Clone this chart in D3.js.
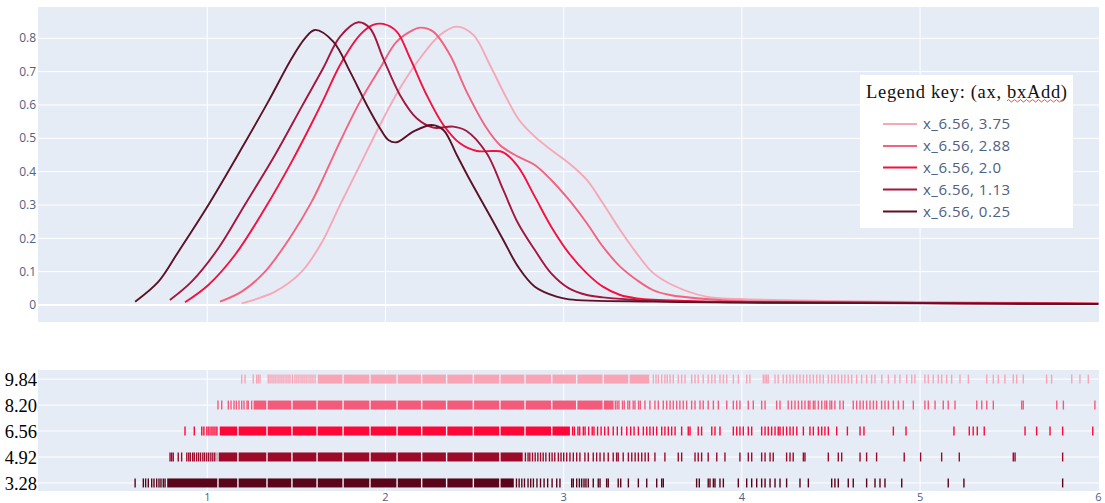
<!DOCTYPE html>
<html><head><meta charset="utf-8">
<script src="https://cdn.jsdelivr.net/npm/d3@7"></script>
<style>body{margin:0;background:#fff}svg{display:block}</style>
</head><body>
<svg id="c" width="1105" height="503"></svg>
<script>
// ---------- DATA ----------
const seriesLabels = ["x_6.56, 3.75", "x_6.56, 2.88", "x_6.56, 2.0", "x_6.56, 1.13", "x_6.56, 0.25"];
const seriesColors = ["#f7a8b7", "#f3627f", "#f2113f", "#a3163e", "#5b1126"];
const rugColors = ["#f9a4b5", "#f45b7b", "#ff0638", "#9c0a2a", "#5a0519"];
const rugLabels = ["9.84", "8.20", "6.56", "4.92", "3.28"];
const yTicks = [0, 0.1, 0.2, 0.3, 0.4, 0.5, 0.6, 0.7, 0.8];
const xTicks = [1, 2, 3, 4, 5, 6];
const legendTitle = "Legend key: (ax, bxAdd)";

const kde375x = [1.193, 1.38, 1.53, 1.645, 1.745, 1.857, 1.969, 2.081, 2.194, 2.306, 2.40, 2.493, 2.586, 2.68, 2.75, 2.838, 2.93, 3.03, 3.13, 3.22, 3.317, 3.41, 3.50, 3.61, 3.80, 3.99, 4.5, 5.0, 5.5, 6.0];
const kde375y = [0.005, 0.04, 0.10, 0.19, 0.30, 0.42, 0.54, 0.65, 0.74, 0.81, 0.835, 0.81, 0.72, 0.62, 0.555, 0.505, 0.465, 0.425, 0.375, 0.305, 0.225, 0.155, 0.097, 0.06, 0.025, 0.018, 0.012, 0.009, 0.007, 0.005];

const kde288x = [1.071, 1.193, 1.324, 1.474, 1.586, 1.65, 1.745, 1.857, 1.969, 2.063, 2.156, 2.194, 2.268, 2.362, 2.455, 2.568, 2.642, 2.744, 2.838, 2.93, 3.03, 3.13, 3.22, 3.317, 3.41, 3.50, 3.597, 3.8, 4.0, 4.5, 5.0, 5.5, 6.0];
const kde288y = [0.01, 0.04, 0.10, 0.21, 0.31, 0.38, 0.49, 0.61, 0.71, 0.79, 0.825, 0.832, 0.82, 0.75, 0.64, 0.53, 0.48, 0.445, 0.42, 0.375, 0.315, 0.245, 0.175, 0.115, 0.075, 0.045, 0.03, 0.018, 0.012, 0.009, 0.007, 0.006, 0.004];

const kde200x = [0.875, 1.006, 1.155, 1.324, 1.474, 1.586, 1.66, 1.745, 1.857, 1.93, 1.987, 2.063, 2.138, 2.231, 2.325, 2.418, 2.512, 2.605, 2.661, 2.744, 2.838, 2.93, 3.03, 3.13, 3.22, 3.317, 3.41, 3.7, 4.0, 4.5, 5.0, 5.5, 6.0];
const kde200y = [0.008, 0.06, 0.15, 0.29, 0.43, 0.545, 0.625, 0.72, 0.81, 0.84, 0.843, 0.82, 0.74, 0.63, 0.54, 0.485, 0.462, 0.462, 0.458, 0.415, 0.325, 0.235, 0.155, 0.095, 0.055, 0.03, 0.02, 0.012, 0.009, 0.008, 0.006, 0.005, 0.004];

const kde113x = [0.79, 0.912, 1.062, 1.21, 1.38, 1.53, 1.65, 1.745, 1.847, 1.913, 1.987, 2.081, 2.175, 2.268, 2.38, 2.455, 2.568, 2.661, 2.744, 2.838, 2.93, 3.03, 3.13, 3.22, 3.5, 4.0, 4.5, 5.0, 5.5, 6.0];
const kde113y = [0.015, 0.07, 0.17, 0.30, 0.45, 0.595, 0.71, 0.805, 0.848, 0.83, 0.74, 0.63, 0.56, 0.532, 0.535, 0.522, 0.455, 0.345, 0.245, 0.165, 0.095, 0.05, 0.03, 0.023, 0.013, 0.008, 0.007, 0.006, 0.004, 0.003];

const kde025x = [0.595, 0.726, 0.838, 1.006, 1.193, 1.342, 1.474, 1.548, 1.604, 1.707, 1.801, 1.895, 1.969, 2.016, 2.063, 2.156, 2.259, 2.325, 2.40, 2.474, 2.568, 2.661, 2.744, 2.838, 2.96, 3.03, 3.5, 4.0, 5.0, 6.0];
const kde025y = [0.010, 0.07, 0.16, 0.30, 0.47, 0.61, 0.74, 0.80, 0.825, 0.79, 0.70, 0.60, 0.53, 0.495, 0.488, 0.52, 0.54, 0.525, 0.45, 0.375, 0.285, 0.195, 0.115, 0.055, 0.025, 0.017, 0.010, 0.007, 0.005, 0.003];

// rug data: dense (solid) ranges and individual ticks
const rug984Solid = [[1.62, 3.48]];
const rug984Ticks = [1.193, 1.212, 1.258, 1.277, 1.286, 1.296, 1.342, 1.352, 1.363, 1.374, 1.385, 1.397, 1.408, 1.419, 1.430, 1.442, 1.453, 1.464, 1.478, 1.492, 1.503, 1.514, 1.526, 1.537, 1.548, 1.559, 1.571, 1.582, 1.593, 1.605, 3.503, 3.518, 3.531, 3.550, 3.568, 3.581, 3.597, 3.615, 3.643, 3.662, 3.681, 3.718, 3.737, 3.755, 3.783, 3.811, 3.831, 3.849, 3.877, 3.896, 3.915, 3.952, 3.980, 4.027, 4.045, 4.120, 4.130, 4.139, 4.148, 4.186, 4.204, 4.232, 4.251, 4.270, 4.288, 4.308, 4.326, 4.345, 4.364, 4.382, 4.401, 4.420, 4.438, 4.457, 4.485, 4.504, 4.522, 4.541, 4.560, 4.578, 4.597, 4.616, 4.644, 4.672, 4.700, 4.728, 4.747, 4.785, 4.822, 4.859, 4.887, 4.925, 4.953, 4.971, 5.027, 5.046, 5.074, 5.102, 5.121, 5.149, 5.177, 5.224, 5.271, 5.374, 5.411, 5.439, 5.476, 5.523, 5.542, 5.579, 5.710, 5.738, 5.851, 5.897, 5.944];

const rug820Solid = [[1.26, 3.28]];
const rug820Ticks = [1.060, 1.081, 1.118, 1.133, 1.150, 1.163, 1.178, 1.193, 1.206, 1.223, 1.230, 1.249, 3.29, 3.30, 3.31, 3.33, 3.34, 3.36, 3.37, 3.39, 3.40, 3.42, 3.43, 3.456, 3.484, 3.512, 3.531, 3.559, 3.578, 3.597, 3.615, 3.634, 3.652, 3.671, 3.690, 3.718, 3.737, 3.765, 3.783, 3.811, 3.840, 3.868, 3.915, 3.952, 3.971, 3.989, 4.036, 4.064, 4.111, 4.130, 4.195, 4.214, 4.260, 4.279, 4.298, 4.317, 4.336, 4.354, 4.373, 4.382, 4.401, 4.410, 4.429, 4.448, 4.466, 4.476, 4.494, 4.504, 4.522, 4.550, 4.569, 4.625, 4.644, 4.663, 4.681, 4.700, 4.719, 4.738, 4.756, 4.784, 4.803, 4.822, 4.850, 4.878, 4.906, 4.962, 5.027, 5.046, 5.084, 5.130, 5.158, 5.196, 5.318, 5.346, 5.374, 5.411, 5.570, 5.579, 5.767, 5.804, 5.981];

const rug656Solid = [[1.07, 3.035]];
const rug656Ticks = [0.875, 0.927, 0.969, 0.981, 0.998, 1.009, 1.021, 1.032, 1.043, 1.054, 3.05, 3.06, 3.08, 3.09, 3.11, 3.12, 3.14, 3.16, 3.17, 3.19, 3.21, 3.23, 3.25, 3.278, 3.301, 3.325, 3.354, 3.376, 3.395, 3.419, 3.447, 3.466, 3.484, 3.503, 3.522, 3.550, 3.568, 3.587, 3.606, 3.625, 3.662, 3.699, 3.709, 3.755, 3.774, 3.831, 3.849, 3.877, 3.952, 3.971, 3.989, 4.008, 4.036, 4.055, 4.111, 4.130, 4.148, 4.167, 4.186, 4.204, 4.214, 4.232, 4.251, 4.270, 4.288, 4.308, 4.345, 4.382, 4.401, 4.429, 4.448, 4.466, 4.485, 4.532, 4.592, 4.663, 4.685, 4.850, 4.921, 5.190, 5.276, 5.298, 5.321, 5.360, 5.589, 5.654, 5.729, 5.800, 5.969];

const rug492Solid = [[1.053, 2.77]];
const rug492Ticks = [0.791, 0.800, 0.809, 0.837, 0.856, 0.885, 0.896, 0.905, 0.918, 0.927, 0.940, 0.951, 0.962, 0.975, 0.985, 0.997, 1.008, 1.020, 1.031, 1.042, 2.785, 2.80, 2.81, 2.825, 2.84, 2.855, 2.87, 2.885, 2.90, 2.92, 2.935, 2.95, 2.97, 2.985, 3.00, 3.017, 3.035, 3.054, 3.073, 3.091, 3.119, 3.138, 3.166, 3.185, 3.204, 3.226, 3.250, 3.278, 3.297, 3.306, 3.334, 3.363, 3.382, 3.401, 3.419, 3.438, 3.457, 3.475, 3.512, 3.568, 3.643, 3.662, 3.737, 3.755, 3.774, 3.811, 3.859, 3.905, 3.989, 4.036, 4.055, 4.111, 4.130, 4.158, 4.176, 4.251, 4.270, 4.288, 4.345, 4.354, 4.485, 4.541, 4.560, 4.663, 4.700, 4.756, 4.911, 5.003, 5.121, 5.220, 5.523, 5.533, 5.800];

const rug328Solid = [[0.775, 2.72]];
const rug328Ticks = [0.595, 0.641, 0.654, 0.669, 0.688, 0.701, 0.716, 0.729, 0.740, 0.753, 0.763, 2.735, 2.75, 2.765, 2.78, 2.80, 2.815, 2.83, 2.85, 2.87, 2.89, 2.91, 2.935, 2.961, 2.979, 3.045, 3.054, 3.073, 3.088, 3.101, 3.114, 3.125, 3.138, 3.166, 3.194, 3.204, 3.241, 3.250, 3.306, 3.320, 3.363, 3.419, 3.466, 3.522, 3.550, 3.559, 3.746, 3.761, 3.811, 3.821, 3.840, 3.849, 3.877, 3.896, 3.980, 4.027, 4.055, 4.083, 4.111, 4.130, 4.158, 4.186, 4.214, 4.251, 4.326, 4.373, 4.504, 4.522, 4.541, 4.597, 4.625, 4.700, 4.747, 4.775, 4.803, 4.897, 5.158, 5.246, 5.800];

// thin empty slits visible inside the dense rug bands
const rugGaps = [1.060, 1.172, 1.335, 1.475, 1.616, 1.762, 1.913, 2.065, 2.203, 2.343, 2.493, 2.642, 2.783, 2.933, 3.073, 3.222, 3.366];

// ---------- BUILD ----------
const kdeX = [kde375x, kde288x, kde200x, kde113x, kde025x];
const kdeY = [kde375y, kde288y, kde200y, kde113y, kde025y];
const rugSolid = [rug984Solid, rug820Solid, rug656Solid, rug492Solid, rug328Solid];
const rugTicks = [rug984Ticks, rug820Ticks, rug656Ticks, rug492Ticks, rug328Ticks];

const L = 38, R = 1099;
const topT = 7, topB = 322;
const botT = 370, botB = 491;
const bg = "#e5ecf6";
const tickColor = "#506080";
const tickFont = "'Open Sans', sans-serif";

const svg = d3.select("#c");
const x = d3.scaleLinear().domain([0.05, 6.004]).range([L, R]);
const y = d3.scaleLinear().domain([-0.051, 0.8938]).range([topB, topT]);
const yr = d3.scaleLinear().domain([-0.35, 4.31]).range([botT, botB]);

svg.append("rect").attr("x", L).attr("y", topT).attr("width", R - L).attr("height", topB - topT).attr("fill", bg);
svg.append("rect").attr("x", L).attr("y", botT).attr("width", R - L).attr("height", botB - botT).attr("fill", bg);

// top grid
const gTop = svg.append("g");
gTop.selectAll("line.h").data(yTicks.filter(d => d !== 0)).join("line").attr("class", "h")
  .attr("x1", L).attr("x2", R).attr("y1", d => y(d)).attr("y2", d => y(d))
  .attr("stroke", "#fff").attr("stroke-width", 1);
gTop.selectAll("line.v").data(xTicks.filter(d => d < 6)).join("line").attr("class", "v")
  .attr("x1", d => x(d)).attr("x2", d => x(d)).attr("y1", topT).attr("y2", topB)
  .attr("stroke", "#fff").attr("stroke-width", 1);
gTop.append("line").attr("x1", L).attr("x2", R).attr("y1", y(0)).attr("y2", y(0))
  .attr("stroke", "#fff").attr("stroke-width", 2);

// top y tick labels
svg.append("g").selectAll("text").data(yTicks).join("text")
  .attr("x", 36).attr("y", d => y(d)).attr("dy", "0.35em")
  .attr("text-anchor", "end").attr("font-family", tickFont)
  .attr("font-size", 12).attr("fill", tickColor)
  .text(d => String(d));

// bottom grid
const gBot = svg.append("g");
gBot.selectAll("line.h").data(rugLabels).join("line").attr("class", "h")
  .attr("x1", L).attr("x2", R).attr("y1", (d, i) => yr(i)).attr("y2", (d, i) => yr(i))
  .attr("stroke", "#fff").attr("stroke-width", 1);
gBot.selectAll("line.v").data(xTicks.filter(d => d < 6)).join("line").attr("class", "v")
  .attr("x1", d => x(d)).attr("x2", d => x(d)).attr("y1", botT).attr("y2", botB)
  .attr("stroke", "#fff").attr("stroke-width", 1);

svg.append("clipPath").attr("id", "clipTop").append("rect").attr("x", L).attr("y", topT).attr("width", R - L).attr("height", topB - topT);
svg.append("clipPath").attr("id", "clipBot").append("rect").attr("x", L).attr("y", botT).attr("width", R - L).attr("height", botB - botT);

// KDE curves
const line = d3.line().x(d => x(d[0])).y(d => y(d[1])).curve(d3.curveCatmullRom.alpha(0.5));
const gCurves = svg.append("g").attr("clip-path", "url(#clipTop)");
kdeX.forEach((xs, i) => {
  const pts = xs.map((v, j) => [v, kdeY[i][j]]);
  gCurves.append("path").datum(pts).attr("d", line)
    .attr("fill", "none").attr("stroke", seriesColors[i]).attr("stroke-width", 1.9)
    .attr("stroke-linejoin", "round");
});

// rugs
const gRug = svg.append("g").attr("clip-path", "url(#clipBot)");
const tickH = 9;
rugLabels.forEach((lab, i) => {
  const cy = yr(i);
  const col = rugColors[i];
  const pieces = [];
  rugSolid[i].forEach(([a, b]) => {
    let start = a;
    rugGaps.filter(g => g > a && g < b).forEach(g => {
      pieces.push([start, g - 0.004]);
      start = g + 0.004;
    });
    pieces.push([start, b]);
  });
  gRug.selectAll(null).data(pieces).join("rect")
    .attr("x", d => x(d[0])).attr("width", d => Math.max(0, x(d[1]) - x(d[0])))
    .attr("y", cy - tickH / 2).attr("height", tickH).attr("fill", col);
  gRug.selectAll(null).data(rugTicks[i]).join("line")
    .attr("x1", d => x(d)).attr("x2", d => x(d))
    .attr("y1", cy - tickH / 2).attr("y2", cy + tickH / 2)
    .attr("stroke", col).attr("stroke-width", 1.4);
});

// bottom y labels (serif)
svg.append("g").selectAll("text").data(rugLabels).join("text")
  .attr("x", 37).attr("y", (d, i) => yr(i)).attr("dy", "0.36em")
  .attr("text-anchor", "end").attr("font-family", "'Liberation Serif', 'Times New Roman', serif")
  .attr("font-size", 18.5).attr("fill", "#000")
  .text(d => d);

// bottom x tick labels
svg.append("g").selectAll("text").data(xTicks).join("text")
  .attr("x", d => x(d)).attr("y", 500.5)
  .attr("text-anchor", "middle").attr("font-family", tickFont)
  .attr("font-size", 11).attr("fill", tickColor)
  .text(d => d);

// legend
const lg = svg.append("g");
lg.append("rect").attr("x", 860).attr("y", 75).attr("width", 213).attr("height", 153).attr("fill", "#fff");
lg.append("text").attr("x", 866).attr("y", 97.5)
  .attr("font-family", "'Liberation Serif', 'Times New Roman', serif").attr("font-size", 18.5)
  .attr("fill", "#111").attr("textLength", 201).attr("lengthAdjust", "spacing")
  .text(legendTitle);
let sq = "M1007,100.8";
for (let k = 1007; k < 1063; k += 3) sq += ` L${k + 1.5},${k % 2 ? 99.6 : 102} L${k + 3},100.8`;
lg.append("path").attr("d", sq).attr("fill", "none").attr("stroke", "#e23b3b").attr("stroke-width", 0.9);

const legY = [124, 146, 167.5, 189.5, 211.5];
seriesLabels.forEach((lab, i) => {
  lg.append("line").attr("x1", 883).attr("x2", 917).attr("y1", legY[i]).attr("y2", legY[i])
    .attr("stroke", seriesColors[i]).attr("stroke-width", 2.2);
  lg.append("text").attr("x", 923).attr("y", legY[i]).attr("dy", "0.36em")
    .attr("font-family", tickFont).attr("font-size", 15).attr("letter-spacing", 0.5)
    .attr("fill", tickColor).text(lab);
});
</script>
</body></html>
